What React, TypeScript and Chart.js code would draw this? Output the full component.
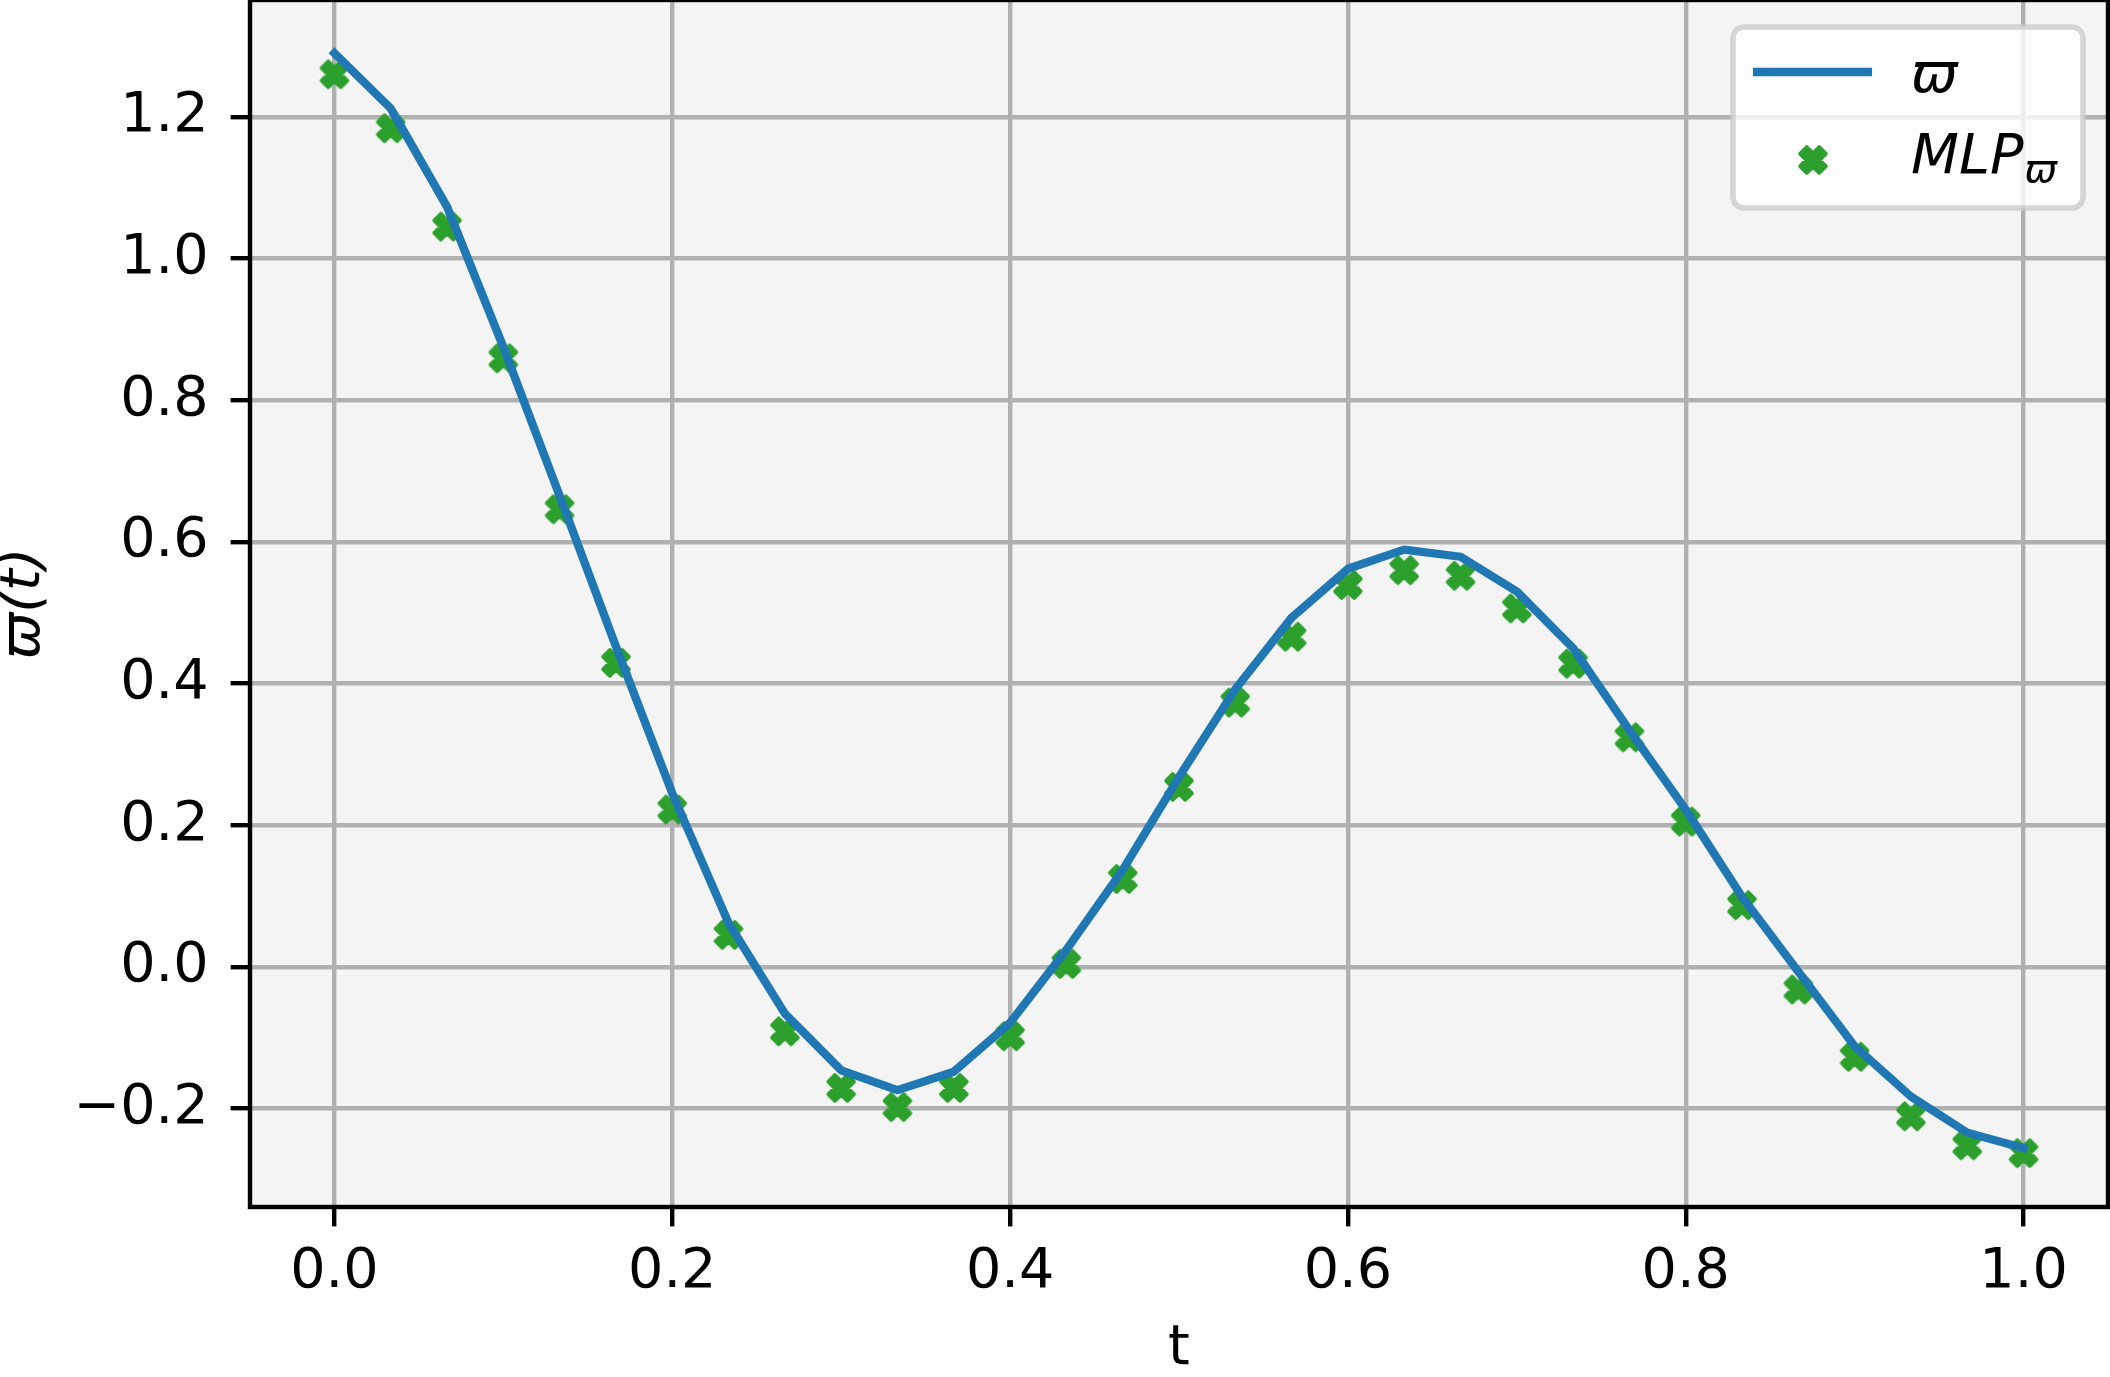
import React, { useEffect, useRef } from 'react';
import { Chart, registerables } from 'chart.js';

Chart.register(...registerables);

// ---- data ----
const T_VALUES = [
  0.0, 0.0333, 0.0667, 0.1, 0.1333, 0.1667, 0.2, 0.2333, 0.2667, 0.3, 0.3333,
  0.3667, 0.4, 0.4333, 0.4667, 0.5, 0.5333, 0.5667, 0.6, 0.6333, 0.6667,
  0.7, 0.7333, 0.7667, 0.8, 0.8333, 0.8667, 0.9, 0.9333, 0.9667, 1.0,
];
const VARPI_VALUES = [
  1.29, 1.212, 1.073, 0.875, 0.665, 0.452, 0.245, 0.062, -0.066, -0.146, -0.174,
  -0.148, -0.079, 0.024, 0.137, 0.268, 0.392, 0.493, 0.562, 0.589, 0.579,
  0.53, 0.45, 0.334, 0.222, 0.099, -0.007, -0.112, -0.183, -0.234, -0.256,
];
const MLP_VALUES = [
  1.26, 1.184, 1.045, 0.859, 0.646, 0.429, 0.222, 0.045, -0.091, -0.171, -0.198,
  -0.171, -0.098, 0.004, 0.124, 0.254, 0.373, 0.466, 0.539, 0.56, 0.552,
  0.506, 0.428, 0.324, 0.205, 0.087, -0.032, -0.127, -0.211, -0.252, -0.263,
];
const X_TICKS = [0.0, 0.2, 0.4, 0.6, 0.8, 1.0];
const Y_TICKS = [-0.2, 0.0, 0.2, 0.4, 0.6, 0.8, 1.0, 1.2];
const X_LIMITS = [-0.05, 1.05];
const Y_LIMITS = [-0.339, 1.365];
const LEGEND_LINE_LABEL = 'ϖ';
const LEGEND_MLP_LABEL = 'MLP';
const LEGEND_MLP_SUB = 'ϖ';
const X_TITLE = 't';
const Y_TITLE = 'ϖ(t)';

// ---- style ----
const W = 2110;
const H = 1377;
const BLUE = '#1f77b4';
const GREEN = '#2ca02c';
const FONT = "'DejaVu Sans', 'Liberation Sans', sans-serif";
const FS = 55.6;

function makeXMarker(): HTMLCanvasElement {
  const d = 40;
  const c = document.createElement('canvas');
  c.width = d;
  c.height = d;
  const ctx = c.getContext('2d')!;
  const pts = [
    [-1, -2], [0, -1], [1, -2], [2, -1], [1, 0], [2, 1],
    [1, 2], [0, 1], [-1, 2], [-2, 1], [-1, 0], [-2, -1],
  ];
  const s = 25 / 4;
  ctx.translate(d / 2, d / 2);
  ctx.beginPath();
  pts.forEach(([x, y], i) => (i ? ctx.lineTo(x * s, y * s) : ctx.moveTo(x * s, y * s)));
  ctx.closePath();
  ctx.fillStyle = GREEN;
  ctx.fill();
  ctx.lineJoin = 'round';
  ctx.lineWidth = 4.5;
  ctx.strokeStyle = GREEN;
  ctx.stroke();
  return c;
}

function fmt(v: number): string {
  const r = Math.round(v * 10) / 10;
  if (Math.abs(r) < 1e-9) return '0.0';
  return (r < 0 ? '\u2212' : '') + Math.abs(r).toFixed(1);
}

function zeroPadding(scale: any) {
  scale.paddingTop = 0;
  scale.paddingBottom = 0;
  scale.paddingLeft = 0;
  scale.paddingRight = 0;
}

export default function App() {
  const ref = useRef<HTMLCanvasElement | null>(null);

  useEffect(() => {
    if (!ref.current) return;
    const marker = makeXMarker();

    const plotPlugin = {
      id: 'plotDecor',
      beforeDraw(chart: any) {
        const { ctx, chartArea: a } = chart;
        ctx.save();
        ctx.fillStyle = '#f4f4f4';
        ctx.fillRect(a.left, a.top, a.right - a.left, a.bottom - a.top);
        ctx.restore();
      },
      afterDatasetsDraw(chart: any) {
        const { ctx, chartArea: a } = chart;
        ctx.save();
        ctx.strokeStyle = '#000';
        ctx.lineWidth = 4.4;
        ctx.lineJoin = 'miter';
        ctx.strokeRect(a.left, a.top, a.right - a.left, a.bottom - a.top);
        ctx.restore();
      },
      afterDraw(chart: any) {
        const { ctx } = chart;
        ctx.save();
        // legend frame
        const bx = 1733, by = 27, bw = 350, bh = 181, r = 11;
        ctx.beginPath();
        ctx.moveTo(bx + r, by);
        ctx.arcTo(bx + bw, by, bx + bw, by + bh, r);
        ctx.arcTo(bx + bw, by + bh, bx, by + bh, r);
        ctx.arcTo(bx, by + bh, bx, by, r);
        ctx.arcTo(bx, by, bx + bw, by, r);
        ctx.closePath();
        ctx.fillStyle = 'rgba(255,255,255,0.8)';
        ctx.fill();
        ctx.lineWidth = 5.5;
        ctx.strokeStyle = 'rgba(204,204,204,0.8)';
        ctx.stroke();
        // line entry
        ctx.beginPath();
        ctx.moveTo(1753, 72);
        ctx.lineTo(1872, 72);
        ctx.strokeStyle = BLUE;
        ctx.lineWidth = 8.3;
        ctx.lineCap = 'butt';
        ctx.stroke();
        // marker entry
        ctx.drawImage(marker, 1813 - marker.width / 2, 160 - marker.height / 2);
        // texts
        ctx.fillStyle = '#000';
        ctx.textBaseline = 'alphabetic';
        ctx.textAlign = 'left';
        ctx.font = `italic ${FS}px ${FONT}`;
        ctx.fillText(LEGEND_LINE_LABEL, 1911, 92);
        ctx.fillText(LEGEND_MLP_LABEL, 1911, 173);
        const w = ctx.measureText(LEGEND_MLP_LABEL).width;
        ctx.font = `italic ${FS * 0.7}px ${FONT}`;
        ctx.fillText(LEGEND_MLP_SUB, 1911 + w + 1, 182);
        ctx.restore();
      },
    };

    const chart = new Chart(ref.current, {
      type: 'scatter',
      data: {
        datasets: [
          {
            label: LEGEND_LINE_LABEL,
            data: T_VALUES.map((t, i) => ({ x: t, y: VARPI_VALUES[i] })),
            showLine: true,
            borderColor: BLUE,
            backgroundColor: BLUE,
            borderWidth: 8.3,
            borderJoinStyle: 'round',
            borderCapStyle: 'square',
            pointRadius: 0,
            pointHoverRadius: 0,
            tension: 0,
            order: 0,
          },
          {
            label: LEGEND_MLP_LABEL + LEGEND_MLP_SUB,
            data: T_VALUES.map((t, i) => ({ x: t, y: MLP_VALUES[i] })),
            showLine: false,
            pointStyle: marker,
            pointRadius: 15,
            backgroundColor: GREEN,
            borderColor: GREEN,
            order: 1,
          },
        ],
      },
      options: {
        responsive: false,
        animation: false,
        devicePixelRatio: 1,
        layout: { autoPadding: false, padding: { top: 0, right: 2, bottom: 0, left: 0 } },
        plugins: {
          legend: { display: false },
          tooltip: { enabled: false },
          title: { display: false },
        },
        scales: {
          x: {
            type: 'linear',
            min: X_LIMITS[0],
            max: X_LIMITS[1],
            afterBuildTicks: (scale: any) => {
              scale.ticks = X_TICKS.map((v) => ({ value: v }));
            },
            afterFit: (scale: any) => {
              scale.height = 170;
              zeroPadding(scale);
            },
            ticks: {
              autoSkip: false,
              maxRotation: 0,
              minRotation: 0,
              padding: 13,
              color: '#000',
              font: { family: FONT, size: FS, lineHeight: 1.2 },
              callback: (v: any) => fmt(Number(v)),
            },
            grid: {
              color: '#b0b0b0',
              lineWidth: 4.4,
              tickColor: '#000',
              tickWidth: 4.4,
              tickLength: 19.4,
              drawTicks: true,
            },
            border: { display: false },
            title: {
              display: true,
              text: X_TITLE,
              color: '#000',
              font: { family: FONT, size: FS, lineHeight: 1.0 },
              padding: 0,
            },
          },
          y: {
            type: 'linear',
            min: Y_LIMITS[0],
            max: Y_LIMITS[1],
            afterBuildTicks: (scale: any) => {
              scale.ticks = Y_TICKS.map((v) => ({ value: v }));
            },
            afterFit: (scale: any) => {
              scale.width = 250;
              zeroPadding(scale);
            },
            ticks: {
              autoSkip: false,
              padding: 22,
              color: '#000',
              font: { family: FONT, size: FS, lineHeight: 1.2 },
              callback: (v: any) => fmt(Number(v)),
            },
            grid: {
              color: '#b0b0b0',
              lineWidth: 4.4,
              tickColor: '#000',
              tickWidth: 4.4,
              tickLength: 19.4,
              drawTicks: true,
            },
            border: { display: false },
            title: {
              display: true,
              text: Y_TITLE,
              color: '#000',
              font: { family: FONT, size: FS, style: 'italic', lineHeight: 0.9 },
              padding: 0,
            },
          },
        },
      },
      plugins: [plotPlugin],
    } as any);

    return () => chart.destroy();
  }, []);

  return (
    <div style={{ position: 'absolute', left: 0, top: 0, width: W, height: H, background: '#fff' }}>
      <canvas ref={ref} width={W} height={H} style={{ width: W, height: H, display: 'block' }} />
    </div>
  );
}
